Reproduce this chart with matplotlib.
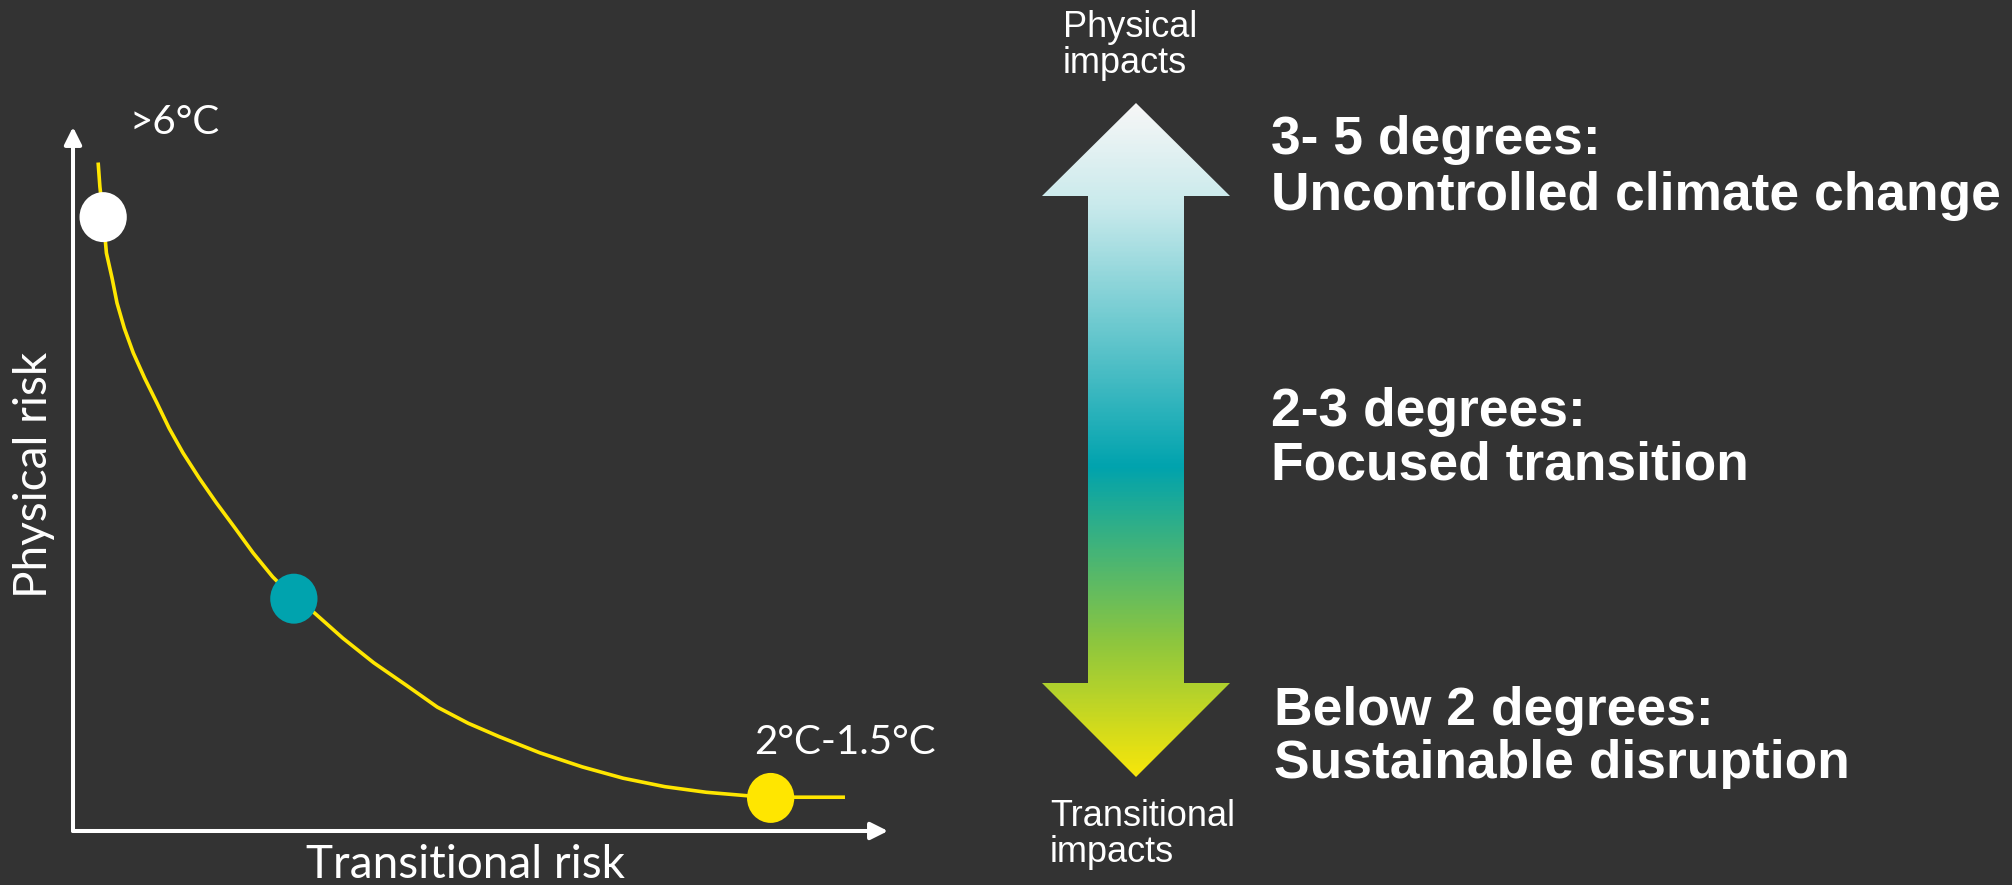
import matplotlib
matplotlib.use("Agg")
import matplotlib.pyplot as plt
import numpy as np
from matplotlib.patches import Ellipse, Polygon
from matplotlib.colors import LinearSegmentedColormap

# --- data -------------------------------------------------------------
# risk trade-off curve (transitional risk on x, physical risk on y)
curve_x = [0.31, 0.33, 0.37, 0.41, 0.48, 0.54, 0.63, 0.74, 0.88, 1.03,
           1.18, 1.35, 1.55, 1.76, 1.99, 2.21, 2.45, 2.71, 2.96, 3.31,
           3.69, 4.09, 4.47, 4.85, 5.23, 5.73, 6.25, 6.75, 7.26, 7.77,
           8.28, 8.56, 9.04, 9.45]
curve_y = [9.47, 9.15, 8.73, 8.21, 7.85, 7.50, 7.14, 6.79, 6.43, 6.08,
           5.72, 5.37, 5.01, 4.66, 4.30, 3.95, 3.61, 3.31, 3.10, 2.74,
           2.39, 2.07, 1.76, 1.53, 1.34, 1.11, 0.91, 0.75, 0.63, 0.55,
           0.50, 0.48, 0.48, 0.48]

# scenario markers on the curve
scenario_x = [0.37, 2.71, 8.56]
scenario_y = [8.72, 3.30, 0.47]
scenario_colors = ["#ffffff", "#00a3ae", "#ffe600"]

scenario_labels = [">6°C", "2°C-1.5°C"]

# right-hand outcome labels (two lines each, top to bottom)
outcome_titles = ["3- 5 degrees:", "2-3 degrees:", "Below 2 degrees:"]
outcome_names = ["Uncontrolled climate change", "Focused transition", "Sustainable disruption"]

# --- style ------------------------------------------------------------
W, H = 2012, 885
BG = "#333333"
YELLOW = "#ffe600"
plt.rcParams["font.family"] = ["Lato", "DejaVu Sans"]


def fx(x):
    return x / W


def fy(y):
    return 1 - y / H


fig = plt.figure(figsize=(W / 100, H / 100), dpi=100, facecolor=BG)

# --- gradient arrow (right) -------------------------------------------
ov = fig.add_axes([0, 0, 1, 1])
ov.set_facecolor("none")
arrow_pts = [(1136, 103), (1230, 196), (1184, 196), (1184, 683), (1230, 683),
             (1136, 777), (1042, 683), (1088, 683), (1088, 196), (1042, 196)]
poly = Polygon(arrow_pts, closed=True, facecolor="none", edgecolor="none")
ov.add_patch(poly)
grad_cmap = LinearSegmentedColormap.from_list(
    "arrow", [(0.0, "#f7f7f7"), (0.15, "#c9eaec"), (0.54, "#00a3ae"),
              (0.80, "#8cc63f"), (1.0, "#f7e60a")])
grad = np.linspace(0, 1, 400).reshape(-1, 1)
im = ov.imshow(grad, cmap=grad_cmap, aspect="auto", origin="upper",
               extent=(1042, 1230, 777, 103), interpolation="bilinear")
im.set_clip_path(poly)
ov.set_xlim(0, W)
ov.set_ylim(H, 0)
ov.axis("off")

# --- left chart -------------------------------------------------------
ax = fig.add_axes([fx(73), fy(831), (888 - 73) / W, (831 - 127) / H])
ax.set_facecolor("none")
ax.set_xlim(0, 10)
ax.set_ylim(0, 10)
ax.axis("off")

arrow_kw = dict(arrowstyle="-|>", color="white", lw=2.9, mutation_scale=26,
                shrinkA=0, shrinkB=0)
ax.annotate("", xy=(10, 0), xytext=(0, 0), arrowprops=arrow_kw, annotation_clip=False)
ax.annotate("", xy=(0, 10), xytext=(0, 0), arrowprops=arrow_kw, annotation_clip=False)

ax.plot(curve_x, curve_y, color=YELLOW, lw=2.6, zorder=2, clip_on=False,
        solid_joinstyle="round")

dot_w, dot_h = 0.58, 0.71
for x, y, c in zip(scenario_x, scenario_y, scenario_colors):
    ax.add_patch(Ellipse((x, y), dot_w, dot_h, facecolor=c, edgecolor="none",
                         zorder=3, clip_on=False))

fig.text(fx(34), fy(475), "Physical risk", rotation=90, color="white",
         fontsize=33, ha="center", va="center")
fig.text(fx(466), fy(878), "Transitional risk", color="white",
         fontsize=33, ha="center", va="baseline")
fig.text(fx(129), fy(134), scenario_labels[0], color="white", fontsize=29,
         ha="left", va="baseline")
fig.text(fx(754), fy(754), scenario_labels[1], color="white", fontsize=29,
         ha="left", va="baseline")

# --- right labels -----------------------------------------------------
arial = ["Liberation Sans", "DejaVu Sans"]
fig.text(fx(1063), fy(37), "Physical", color="white", fontsize=26,
         family=arial, ha="left", va="baseline")
fig.text(fx(1063), fy(73), "impacts", color="white", fontsize=26,
         family=arial, ha="left", va="baseline")
fig.text(fx(1050), fy(826), "Transitional", color="white", fontsize=26,
         family=arial, ha="left", va="baseline")
fig.text(fx(1050), fy(862), "impacts", color="white", fontsize=26,
         family=arial, ha="left", va="baseline")

title_base = [154, 426, 725]
name_base = [210, 480, 778]
text_left = [1271, 1271, 1274]
for t, n, yb1, yb2, xl in zip(outcome_titles, outcome_names, title_base, name_base, text_left):
    fig.text(fx(xl), fy(yb1), t, color="white", fontsize=38.4, fontweight="bold",
             family=arial, ha="left", va="baseline")
    fig.text(fx(xl), fy(yb2), n, color="white", fontsize=38.4, fontweight="bold",
             family=arial, ha="left", va="baseline")

fig.savefig("out.png", dpi=100, facecolor=BG)
